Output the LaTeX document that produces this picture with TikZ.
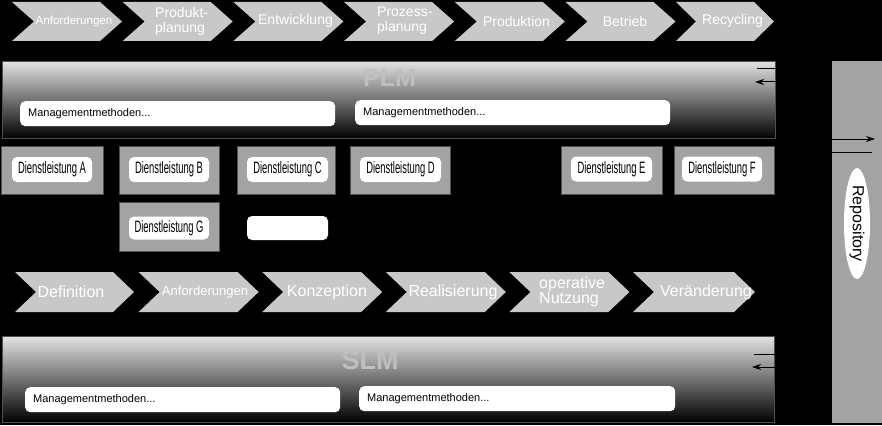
\documentclass[tikz,border=0pt]{standalone}
\usepackage{fontspec}
\setmainfont{Liberation Sans}
\newfontfamily\narrowfont[FakeStretch=0.57]{Liberation Sans}
\usetikzlibrary{arrows.meta,shapes.geometric}
\definecolor{chevgrey}{HTML}{C8C8C8}
\definecolor{boxgrey}{HTML}{A3A3A3}
\definecolor{panelborder}{HTML}{505050}
\definecolor{paneltop}{HTML}{E2E2E2}
\definecolor{watermark}{HTML}{BFBFBF}
\newcommand\mychev[5]{% x0, y0, w, h, d
  \fill[chevgrey] (#1,#2) -- ({#1+#3-#5},#2) -- ({#1+#3},{#2+#4/2}) -- ({#1+#3-#5},{#2+#4}) -- (#1,{#2+#4}) -- ({#1+#5},{#2+#4/2}) -- cycle;}
\tikzset{
  chevtext/.style={text=white, inner sep=0pt, align=left},
  panel/.style={anchor=north west, top color=paneltop, bottom color=black, draw=panelborder, line width=0.8pt, inner sep=0pt},
  wmark/.style={text=watermark, inner sep=0pt, font=\bfseries\fontsize{25}{27}\selectfont},
  mgmt/.style={fill=white, rounded corners=5pt, minimum height=25pt, inner xsep=8pt, inner ysep=0pt, align=left, anchor=north west, font=\fontsize{11}{13}\selectfont},
  dbox/.style={fill=boxgrey, draw=panelborder, line width=0.6pt, anchor=north west, inner sep=0pt},
  dlabel/.style={fill=white, rounded corners=5pt, minimum width=80pt, minimum height=25pt, inner sep=0pt, font=\narrowfont\fontsize{16.5}{18}\selectfont},
  conn/.style={draw=black, line width=1pt, -{Stealth[length=9pt,width=6pt]}}
}
\begin{document}
\begin{tikzpicture}[x=1pt,y=-1pt]
\fill[black] (0,0) rectangle (882,425);
\useasboundingbox (0,0) rectangle (882,425);

% top chevrons (PLM lifecycle)
\mychev{12}{2}{110}{39}{22}
\mychev{122.7}{2}{110}{39}{22}
\mychev{233.4}{2}{110}{39}{22}
\mychev{344.1}{2}{110}{39}{22}
\mychev{454.8}{2}{110}{39}{22}
\mychev{565.5}{2}{110}{39}{22}
\mychev{676}{2}{98}{39}{20}
\node[chevtext, font=\fontsize{11.6}{13}\selectfont] (p1) at (74,22) {Anforderungen};
\node[chevtext, anchor=west, font=\fontsize{14}{15}\selectfont] (p2) at (155,21) {Produkt-\\planung};
\node[chevtext, font=\fontsize{14}{15}\selectfont] (p3) at (295.5,20.5) {Entwicklung};
\node[chevtext, anchor=west, font=\fontsize{14}{15}\selectfont] (p4) at (377,21) {Prozess-\\planung};
\node[chevtext, font=\fontsize{14}{15}\selectfont] (p5) at (516.5,21.5) {Produktion};
\node[chevtext, font=\fontsize{14}{15}\selectfont] (p6) at (625,21.5) {Betrieb};
\node[chevtext, font=\fontsize{14}{15}\selectfont] (p7) at (732.5,20.5) {Recycling};

% PLM panel
\node[panel, minimum width=773pt, minimum height=77pt] (plm) at (2,61) {};
\node[wmark] (plmtitle) at (389.5,78) {PLM};
\node[mgmt, text width=299pt] (pm1) at (20,101) {Managementmethoden...};
\node[mgmt, text width=299pt] (pm2) at (355,100) {Managementmethoden...};

% Repository
\node[fill=boxgrey, minimum width=50pt, minimum height=362pt, inner sep=0pt, anchor=north west] (repo) at (832,61) {};
\node[ellipse, fill=white, rotate=-90, minimum width=111pt, minimum height=26pt, inner sep=0pt, font=\fontsize{16}{18}\selectfont] (repolabel) at (857,223.5) {Repository};

% services
\node[dbox, minimum width=102pt, minimum height=48pt] (dA) at (1,146) {};
\node[dbox, minimum width=100pt, minimum height=48pt] (dB) at (119,146) {};
\node[dbox, minimum width=98pt, minimum height=48pt] (dC) at (237,146) {};
\node[dbox, minimum width=100pt, minimum height=48pt] (dD) at (350,146) {};
\node[dbox, minimum width=101pt, minimum height=48pt] (dE) at (561,146) {};
\node[dbox, minimum width=100pt, minimum height=48pt] (dF) at (674,146) {};
\node[dbox, minimum width=100pt, minimum height=49pt] (dG) at (119,202) {};
\node[dlabel] (lA) at (52,169.5) {Dienstleistung A};
\node[dlabel] (lB) at (169,169.5) {Dienstleistung B};
\node[dlabel, minimum width=81pt] (lC) at (287.5,169.5) {Dienstleistung C};
\node[dlabel, minimum width=81pt] (lD) at (400.5,169.5) {Dienstleistung D};
\node[dlabel, minimum width=81pt] (lE) at (611.5,169) {Dienstleistung E};
\node[dlabel] (lF) at (722,169) {Dienstleistung F};
\node[dlabel, minimum height=23pt] (lG) at (169,228) {Dienstleistung G};
\node[dlabel, minimum width=81pt, minimum height=24pt] (lH) at (287.5,228) {};

% bottom chevrons (SLM lifecycle)
\mychev{15}{272}{119}{40}{21}
\mychev{138.6}{272}{120}{40}{21}
\mychev{262.2}{272}{120}{40}{21}
\mychev{385.8}{272}{120}{40}{21}
\mychev{509.4}{272}{120}{40}{21}
\mychev{633}{272}{122}{40}{21}
\node[chevtext, font=\fontsize{16}{17}\selectfont] (s1) at (71,292) {Definition};
\node[chevtext, font=\fontsize{13}{14}\selectfont] (s2) at (205,292) {Anforderungen};
\node[chevtext, font=\fontsize{16}{17}\selectfont] (s3) at (327,292) {Konzeption};
\node[chevtext, font=\fontsize{16}{17}\selectfont] (s4) at (453,292) {Realisierung};
\node[chevtext, anchor=west, font=\fontsize{16}{14.3}\selectfont] (s5) at (539,292) {operative\\Nutzung};
\node[chevtext, font=\fontsize{16}{17}\selectfont] (s6) at (706,292) {Veränderung};

% SLM panel
\node[panel, minimum width=772pt, minimum height=86pt] (slm) at (2,336) {};
\node[wmark, font=\bfseries\fontsize{27}{29}\selectfont] (slmtitle) at (370,360) {SLM};
\node[mgmt, text width=299pt] (sm1) at (25,387) {Managementmethoden...};
\node[mgmt, text width=300pt] (sm2) at (359,386) {Managementmethoden...};

% connectors between panels and repository
\coordinate (plmout) at (757,69);
\coordinate (plmin) at (755,82);
\coordinate (repoin) at (875,139);
\coordinate (repoout) at (872,152);
\coordinate (busA) at (805,69);
\coordinate (busB) at (818,152);
\draw[conn] (plmout) -- (busA) |- (repoin);
\draw[conn] (repoout) -- (busB) |- (plmin);
\coordinate (slmout) at (754,354);
\coordinate (slmin) at (752,367);
\draw[conn] (slmout) -- (repo.west |- slmout);
\draw[conn] (repo.west |- slmin) -- (slmin);
\end{tikzpicture}
\end{document}
